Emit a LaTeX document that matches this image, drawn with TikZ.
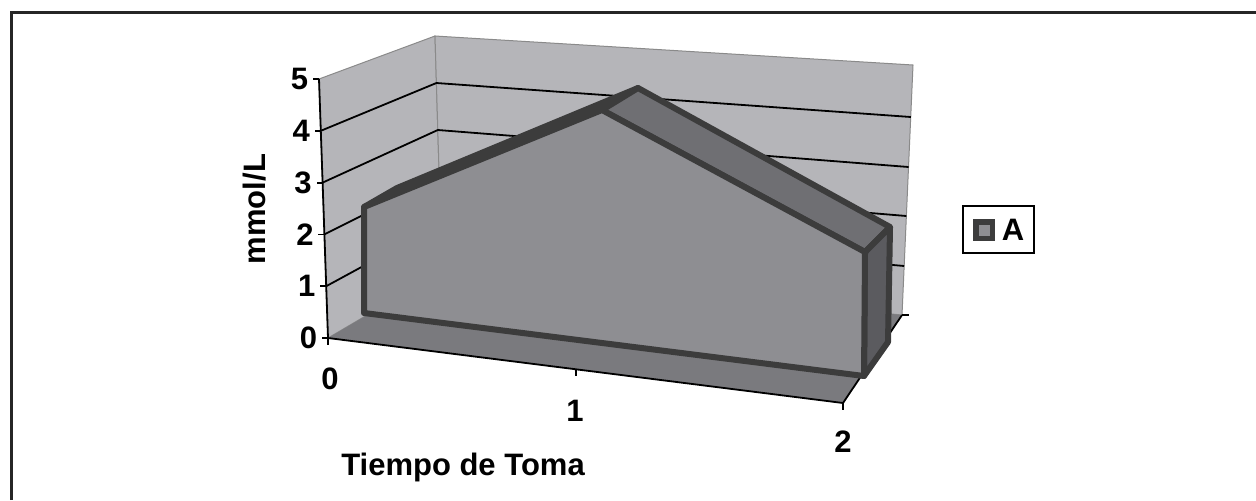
\documentclass[tikz,border=0pt]{standalone}
\usepackage{fontspec}
\setmainfont{Liberation Sans}
\usetikzlibrary{positioning}
\definecolor{wallgray}{HTML}{B5B5B9}
\definecolor{floorgray}{HTML}{7A7A7E}
\definecolor{frontgray}{HTML}{8E8E92}
\definecolor{topgray}{HTML}{6F6F73}
\definecolor{sidegray}{HTML}{5B5B5F}
\definecolor{rim}{HTML}{3C3C3C}
\definecolor{edgegray}{HTML}{8A8A8A}
\begin{document}
\begin{tikzpicture}[x=0.5pt,y=-0.5pt,
    lbl/.style={font=\bfseries\fontsize{15.5}{17}\selectfont,inner sep=0pt},
    wall/.style={fill=wallgray,draw=edgegray,line width=0.5pt},
    gridline/.style={black,line width=0.9pt},
    axisline/.style={black,line width=0.9pt},
    face/.style={draw=rim,line width=3pt,line join=round}]
  \useasboundingbox (0,0) rectangle (1256,500);
  \draw[line width=1.5pt,black!85] (11,500) -- (11,12) -- (1256,12);
  % corners of the box
  \coordinate (L5) at (319,79);
  \coordinate (L4) at (320.8,130.8);
  \coordinate (L3) at (322.6,182.6);
  \coordinate (L2) at (324.4,234.4);
  \coordinate (L1) at (326.2,286.2);
  \coordinate (L0) at (328,338);
  \coordinate (B5) at (435,36);
  \coordinate (B4) at (436.4,83);
  \coordinate (B3) at (437.8,130);
  \coordinate (B2) at (439.2,177);
  \coordinate (B1) at (440.6,224);
  \coordinate (B0) at (442,271);
  \coordinate (R5) at (913,65);
  \coordinate (R4) at (910.8,117);
  \coordinate (R3) at (908.6,167);
  \coordinate (R2) at (906.4,216);
  \coordinate (R1) at (904.2,266);
  \coordinate (R0) at (902,315);
  \coordinate (F0) at (328,338);
  \coordinate (F1) at (576,369);
  \coordinate (F2) at (843,403);
  % walls and floor
  \filldraw[wall] (L5) -- (B5) -- (B0) -- (L0) -- cycle;
  \filldraw[wall] (B5) -- (R5) -- (R0) -- (B0) -- cycle;
  \fill[floorgray] (L0) -- (B0) -- (R0) -- (F2) -- cycle;
  \foreach \k in {1,...,4}
    \draw[gridline] (L\k) -- (B\k) -- (R\k);
  % axes
  \draw[axisline] (L5) -- (L0);
  \draw[axisline] (F0) -- (F2) -- (R0);
  \foreach \k in {0,...,5}
    \draw[axisline] (L\k) -- ++(-6,0) node[lbl,anchor=east,xshift=-2pt] (y\k) {\k};
  \foreach \k in {0,1,2}
    \draw[axisline] (F\k) -- ++(0,7);
  \draw[axisline] (R0) -- ++(7,0);
  \node[lbl] (x0) at (330,379) {0};
  \node[lbl] (x1) at (575,411) {1};
  \node[lbl] (x2) at (843,442) {2};
  \node[lbl,rotate=90] (ytitle) at (255,209) {mmol/L};
  \node[lbl] (xtitle) at (463,467) {Tiempo de Toma};
  % series A
  \coordinate (FBL) at (364,313);
  \coordinate (FTL) at (364,207);
  \coordinate (FPK) at (602,110);
  \coordinate (FTR) at (865,252);
  \coordinate (FBR) at (864,376);
  \coordinate (BTL) at (397,188);
  \coordinate (BPK) at (638,88);
  \coordinate (BTR) at (890,227);
  \coordinate (BBR) at (888,342);
  \filldraw[face,fill=rim] (FTL) -- (BTL) -- (BPK) -- (FPK) -- cycle;
  \filldraw[face,fill=topgray] (FPK) -- (BPK) -- (BTR) -- (FTR) -- cycle;
  \filldraw[face,fill=sidegray] (FTR) -- (BTR) -- (BBR) -- (FBR) -- cycle;
  \filldraw[face,fill=frontgray] (FBL) -- (FTL) -- (FPK) -- (FTR) -- (FBR) -- cycle;
  % legend
  \node[draw=black,line width=1pt,minimum width=35.5pt,minimum height=23.5pt,inner sep=0pt] (legend) at (998.5,229.5) {};
  \node[fill=rim,minimum size=11pt,inner sep=0pt] (swatch) at (984,230) {};
  \node[fill=frontgray,minimum size=5.5pt,inner sep=0pt] (swatchin) at (984,230) {};
  \node[lbl,right=3pt of swatch] (A) {A};
\end{tikzpicture}
\end{document}
